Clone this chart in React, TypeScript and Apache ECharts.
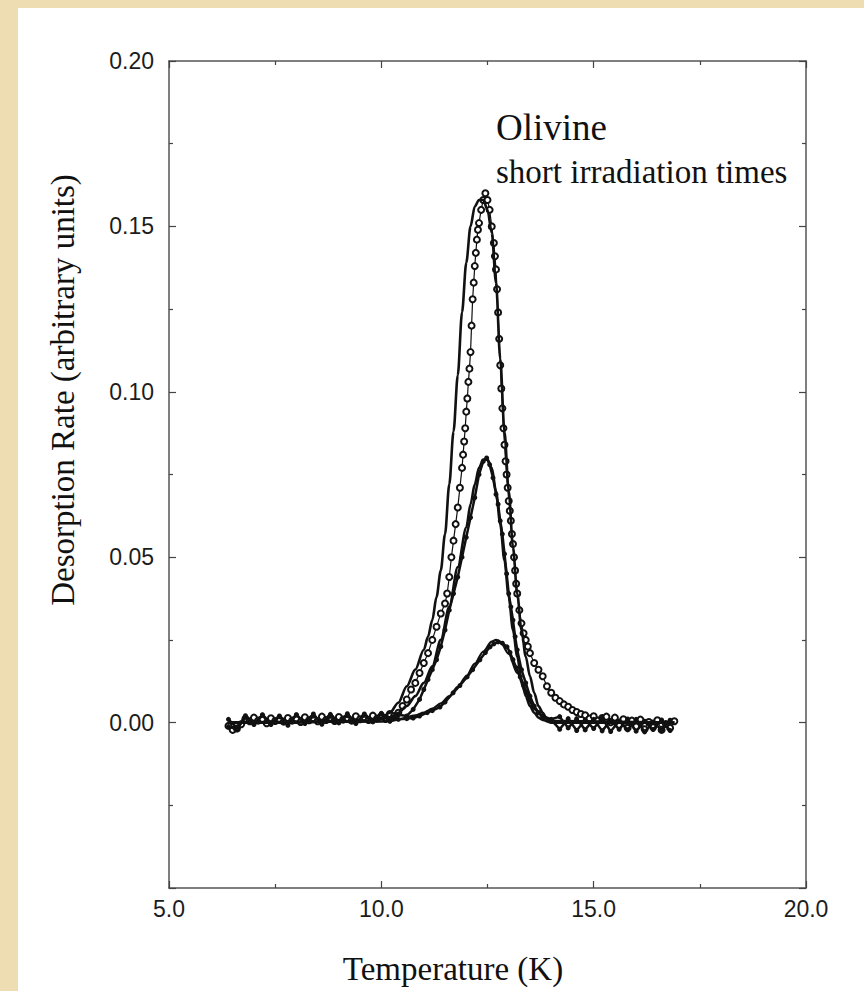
import React, { useEffect, useRef } from "react";
import * as echarts from "echarts";

// ---- Data (Temperature in K, desorption rate in arbitrary units) ----
const xTickValues = [5, 10, 15, 20];
const yTickValues = [0.0, 0.05, 0.1, 0.15, 0.2];

// Long irradiation set: open circles
const largeT = [
  6.4, 6.5, 6.6, 6.7, 6.8, 6.9, 7.0, 7.1, 7.2, 7.3, 7.4, 7.5, 7.6, 7.7, 7.8, 7.9, 8.0, 8.1, 8.2, 8.3,
  8.4, 8.5, 8.6, 8.7, 8.8, 8.9, 9.0, 9.1, 9.2, 9.3, 9.4, 9.5, 9.6, 9.7, 9.8, 9.9, 10.0, 10.1, 10.2, 10.3,
  10.4, 10.5, 10.6, 10.7, 10.8, 10.9, 11.0, 11.1, 11.2, 11.3, 11.4, 11.5, 11.55, 11.6, 11.65, 11.7, 11.75, 11.8, 11.85, 11.9,
  11.925, 11.95, 11.975, 12.0, 12.025, 12.05, 12.075, 12.1, 12.125, 12.15, 12.175, 12.2, 12.225, 12.25, 12.275, 12.3, 12.35, 12.4, 12.45, 12.5,
  12.55, 12.6, 12.65, 12.675, 12.7, 12.725, 12.75, 12.775, 12.8, 12.825, 12.85, 12.875, 12.9, 12.925, 12.95, 12.975, 13.0, 13.025, 13.05, 13.075,
  13.1, 13.125, 13.15, 13.175, 13.2, 13.25, 13.3, 13.35, 13.4, 13.45, 13.5, 13.6, 13.7, 13.8, 13.9, 14.0, 14.1, 14.2, 14.3, 14.4,
  14.5, 14.6, 14.7, 14.8, 14.9, 15.0, 15.1, 15.2,
  15.3, 15.4, 15.5, 15.6, 15.7, 15.8, 15.9, 16.0, 16.1, 16.2, 16.3, 16.4, 16.5, 16.6, 16.7, 16.8, 16.9,
];
const largeV = [
  -0.001, -0.0022, -0.0018, -0.0005, 0.0012, 0.0004, 0.0015, 0.0006, 0.0011, -0.0002, 0.0013, 0.0005, 0.001, 0.0003, 0.0014, 0.0006, 0.0012, 0.0002, 0.0016, 0.0007,
  0.0013, 0.0004, 0.0018, 0.0008, 0.0015, 0.0005, 0.0017, 0.0009, 0.0014, 0.0006, 0.0019, 0.001, 0.0016, 0.0008, 0.0021, 0.0012, 0.002, 0.0011, 0.0026, 0.002,
  0.003, 0.005, 0.007, 0.01, 0.012, 0.015, 0.018, 0.021, 0.025, 0.029, 0.033, 0.036, 0.039, 0.044, 0.05, 0.055, 0.06, 0.065, 0.071, 0.077,
  0.081, 0.085, 0.089, 0.094, 0.098, 0.103, 0.107, 0.112, 0.12, 0.128, 0.133, 0.138, 0.142, 0.146, 0.149, 0.151, 0.155, 0.158, 0.16, 0.158,
  0.155, 0.15, 0.145, 0.141, 0.137, 0.131, 0.124, 0.116, 0.108, 0.101, 0.095, 0.089, 0.084, 0.079, 0.075, 0.071, 0.067, 0.064, 0.061, 0.057,
  0.054, 0.05, 0.046, 0.042, 0.039, 0.034, 0.03, 0.027, 0.025, 0.023, 0.021, 0.018, 0.016, 0.014, 0.011, 0.009, 0.0075, 0.0065, 0.0055, 0.0048,
  0.0038, 0.0032, 0.0026, 0.0022, 0.0012, 0.0019, 0.0006, 0.0014,
  0.0018, 0.0001, 0.0015, -0.0008, 0.001, -0.0016, 0.0006, -0.0012, 0.0009, -0.002, 0.0002, -0.0014, 0.0007, -0.0022, -0.0004, -0.0016, 0.0004,
];

// Intermediate irradiation set: small filled dots
const mediumT = [
  6.4, 6.6, 6.8, 7.0, 7.2, 7.4, 7.6, 7.8, 8.0, 8.2, 8.4, 8.6, 8.8, 9.0, 9.2, 9.4, 9.6, 9.8, 10.0, 10.2, 10.4,
  10.6, 10.75, 10.9, 11.0, 11.1, 11.2, 11.3, 11.4, 11.5, 11.6, 11.7, 11.8, 11.9, 12.0, 12.1, 12.2, 12.3, 12.4, 12.48,
  12.55, 12.63, 12.7, 12.75, 12.8, 12.85, 12.9, 12.95, 13.0, 13.05, 13.1, 13.15, 13.2, 13.3, 13.4, 13.5, 13.6, 13.7, 13.8, 14.0,
  14.2, 14.4, 14.6, 14.8, 15.0, 15.2, 15.4, 15.6, 15.8, 16.0, 16.2, 16.4, 16.6, 16.8,
];
const mediumV = [
  -0.0012, -0.002, 0.0016, -0.0004, 0.0022, -0.0006, 0.0018, -0.0002, 0.0024, -0.0003, 0.002, 0.0, 0.0025, 0.0002, 0.0021, -0.0001, 0.0026, 0.0004, 0.0027, 0.0006, 0.0024,
  0.002, 0.004, 0.007, 0.01, 0.013, 0.016, 0.019, 0.023, 0.028, 0.034, 0.039, 0.044, 0.05, 0.056, 0.062, 0.068, 0.075, 0.079, 0.08,
  0.078, 0.074, 0.069, 0.066, 0.061, 0.057, 0.051, 0.045, 0.039, 0.035, 0.031, 0.026, 0.022, 0.016, 0.012, 0.008, 0.005, 0.003, 0.002, 0.001,
  0.0018, -0.0016, 0.0012, -0.0022, 0.001, -0.0025, 0.0006, -0.002, 0.0011, -0.0026, 0.0004, -0.0021, 0.0008, -0.0024,
];

// Shortest irradiation set: small filled dots
const smallT = [
  6.4, 6.6, 6.8, 7.0, 7.2, 7.4, 7.6, 7.8, 8.0, 8.2, 8.4, 8.6, 8.8, 9.0, 9.2, 9.4, 9.6, 9.8, 10.0, 10.2,
  10.4, 10.6, 10.75, 10.9, 11.08, 11.2, 11.38, 11.5, 11.69, 11.85, 12.02, 12.15, 12.32, 12.45, 12.56, 12.65, 12.75, 12.85, 12.96, 13.03,
  13.1, 13.18, 13.27, 13.35, 13.43, 13.5, 13.57, 13.7, 13.81, 14.0,
  14.2, 14.4, 14.6, 14.8, 15.0, 15.2, 15.4, 15.6, 15.8, 16.0, 16.2, 16.4, 16.6, 16.8,
];
const smallV = [
  0.001, -0.0016, 0.0021, -0.0006, 0.0024, -0.0002, 0.002, -0.0008, 0.0023, 0.0, 0.0026, -0.0005, 0.0019, -0.0001, 0.0027, -0.0003, 0.0022, 0.0002, 0.0028, 0.0004,
  0.001, 0.0012, 0.0014, 0.002, 0.003, 0.0036, 0.0047, 0.0062, 0.009, 0.0112, 0.0138, 0.016, 0.019, 0.0212, 0.0229, 0.0238, 0.0244, 0.024, 0.0229, 0.0212,
  0.019, 0.0165, 0.0138, 0.0112, 0.009, 0.0068, 0.0047, 0.003, 0.0017, 0.0008,
  -0.002, 0.0012, -0.0024, 0.0008, -0.0018, 0.0014, -0.0027, 0.0005, -0.0022, 0.001, -0.0028, 0.0002, -0.0023, 0.0007,
];

// Model fits (solid lines)
const fitLargeT = [6.4, 8.0, 9.6, 10.0, 10.2, 10.4, 10.6, 10.8, 11.0, 11.1, 11.2, 11.3, 11.4, 11.5, 11.6, 11.7, 11.8, 11.9, 12.0, 12.1, 12.2, 12.3, 12.4, 12.5, 12.6, 12.7, 12.8, 12.9, 13.0, 13.1, 13.2, 13.3, 13.4, 13.5, 13.6, 13.7, 13.8, 13.9, 14.0, 15.0, 16.9];
const fitLargeV = [0, 0, 0.0005, 0.0015, 0.003, 0.006, 0.011, 0.016, 0.022, 0.026, 0.031, 0.038, 0.046, 0.057, 0.072, 0.088, 0.105, 0.124, 0.139, 0.15, 0.156, 0.158, 0.158, 0.155, 0.148, 0.133, 0.11, 0.088, 0.07, 0.053, 0.039, 0.028, 0.02, 0.014, 0.009, 0.005, 0.003, 0.001, 0, 0, 0];

const fitMediumT = [6.4, 9.8, 10.2, 10.4, 10.6, 10.8, 11.0, 11.2, 11.4, 11.6, 11.8, 12.0, 12.1, 12.2, 12.3, 12.4, 12.5, 12.6, 12.7, 12.8, 12.9, 13.0, 13.1, 13.2, 13.3, 13.4, 13.5, 13.6, 13.7, 13.8, 14.0, 16.9];
const fitMediumV = [0, 0.0005, 0.0015, 0.003, 0.005, 0.008, 0.012, 0.017, 0.025, 0.035, 0.047, 0.059, 0.066, 0.072, 0.077, 0.0795, 0.0795, 0.077, 0.07, 0.06, 0.049, 0.038, 0.028, 0.02, 0.013, 0.008, 0.005, 0.003, 0.0015, 0.0008, 0, 0];

const fitSmallT = [6.4, 10.0, 10.4, 10.8, 11.0, 11.2, 11.4, 11.6, 11.8, 12.0, 12.2, 12.4, 12.6, 12.7, 12.8, 13.0, 13.2, 13.4, 13.6, 13.8, 14.0, 16.9];
const fitSmallV = [0, 0.0003, 0.001, 0.0022, 0.003, 0.0042, 0.0058, 0.008, 0.0108, 0.014, 0.0178, 0.0215, 0.0245, 0.025, 0.0245, 0.0208, 0.015, 0.009, 0.0045, 0.0018, 0.0005, 0];

const zip = (t: number[], v: number[]) => t.map((x, i) => [x, v[i]]);

const AXIS_COLOR = "#555";
const INK = "#111";
const SERIF = "'Liberation Serif', 'Times New Roman', serif";
const SANS = "'Liberation Sans', Arial, sans-serif";

function makeAxisCommon() {
  return {
    type: "value" as const,
    axisLine: { show: true, onZero: false, lineStyle: { color: AXIS_COLOR, width: 1.5 } },
    axisTick: { show: true, inside: true, length: 7, lineStyle: { color: "#444", width: 1.2 } },
    minorTick: { show: true, splitNumber: 2, length: 4, lineStyle: { color: "#444", width: 1.2 } },
    splitLine: { show: false },
    minorSplitLine: { show: false },
  };
}

export default function App() {
  const ref = useRef<HTMLDivElement>(null);
  useEffect(() => {
    if (!ref.current) return;
    const chart = echarts.init(ref.current, undefined, { renderer: "svg" });
    const xMin = xTickValues[0];
    const xMax = xTickValues[xTickValues.length - 1];
    const yMax = yTickValues[yTickValues.length - 1];
    const option: any = {
      animation: false,
      backgroundColor: "transparent",
      grid: { left: 169, top: 61, width: 637, height: 827 },
      xAxis: [
        {
          ...makeAxisCommon(),
          min: xMin,
          max: xMax,
          interval: 5,
          position: "bottom",
          axisLabel: {
            show: true,
            margin: 9,
            fontFamily: SANS,
            fontSize: 23,
            color: "#1c1c1c",
            formatter: (v: number) => v.toFixed(1),
          },
        },
        {
          ...makeAxisCommon(),
          min: xMin,
          max: xMax,
          interval: 5,
          position: "top",
          axisLabel: { show: false },
        },
      ],
      yAxis: [
        {
          ...makeAxisCommon(),
          min: -0.05,
          max: yMax,
          interval: 0.05,
          position: "left",
          axisLabel: {
            show: true,
            margin: 15,
            fontFamily: SANS,
            fontSize: 23,
            color: "#1c1c1c",
            formatter: (v: number) => (v < -0.01 ? "" : Math.abs(v) < 1e-9 ? "0.00" : v.toFixed(2)),
          },
        },
        {
          ...makeAxisCommon(),
          min: -0.05,
          max: yMax,
          interval: 0.05,
          position: "right",
          axisLabel: { show: false },
        },
      ],
      graphic: [
        {
          type: "text",
          x: 496,
          y: 127,
          style: { text: "Olivine", fontFamily: SERIF, fontSize: 37, fill: INK, align: "left", verticalAlign: "middle" },
        },
        {
          type: "text",
          x: 496,
          y: 172,
          style: { text: "short irradiation times", fontFamily: SERIF, fontSize: 33, fill: INK, align: "left", verticalAlign: "middle" },
        },
        {
          type: "text",
          x: 453,
          y: 969,
          style: { text: "Temperature (K)", fontFamily: SERIF, fontSize: 33, fill: INK, align: "center", verticalAlign: "middle" },
        },
        {
          type: "text",
          x: 63,
          y: 390,
          rotation: Math.PI / 2,
          style: { text: "Desorption Rate (arbitrary units)", fontFamily: SERIF, fontSize: 33, fill: INK, align: "center", verticalAlign: "middle" },
        },
      ],
      series: [
        {
          name: "Data (long)",
          type: "line",
          data: zip(largeT, largeV),
          symbol: "emptyCircle",
          symbolSize: 6,
          showAllSymbol: true,
          lineStyle: { color: INK, width: 1.2 },
          itemStyle: { color: INK, borderColor: INK, borderWidth: 1.4 },
          z: 2,
        },
        {
          name: "Data (medium)",
          type: "line",
          data: zip(mediumT, mediumV),
          symbol: "circle",
          symbolSize: 5,
          showAllSymbol: true,
          lineStyle: { color: INK, width: 2.5 },
          itemStyle: { color: INK },
          z: 3,
        },
        {
          name: "Data (short)",
          type: "line",
          data: zip(smallT, smallV),
          symbol: "circle",
          symbolSize: 5,
          showAllSymbol: true,
          lineStyle: { color: INK, width: 2.5 },
          itemStyle: { color: INK },
          z: 3,
        },
        {
          name: "Fit (long)",
          type: "line",
          data: zip(fitLargeT, fitLargeV),
          symbol: "none",
          smooth: 0.3,
          smoothMonotone: "x",
          lineStyle: { color: INK, width: 2.6 },
          z: 4,
        },
        {
          name: "Fit (medium)",
          type: "line",
          data: zip(fitMediumT, fitMediumV),
          symbol: "none",
          smooth: 0.3,
          smoothMonotone: "x",
          lineStyle: { color: INK, width: 2.6 },
          z: 4,
        },
        {
          name: "Fit (short)",
          type: "line",
          data: zip(fitSmallT, fitSmallV),
          symbol: "none",
          smooth: 0.3,
          smoothMonotone: "x",
          lineStyle: { color: INK, width: 2.2 },
          z: 4,
        },
      ],
    };
    chart.setOption(option);
    return () => chart.dispose();
  }, []);

  return (
    <div style={{ position: "fixed", left: 0, top: 0, width: 864, height: 991, background: "#eedcb3", overflow: "hidden" }}>
      <div style={{ position: "absolute", left: 18, top: 8, right: 0, bottom: 0, background: "#ffffff" }} />
      <div ref={ref} style={{ position: "absolute", left: 0, top: 0, width: 864, height: 991 }} />
    </div>
  );
}
